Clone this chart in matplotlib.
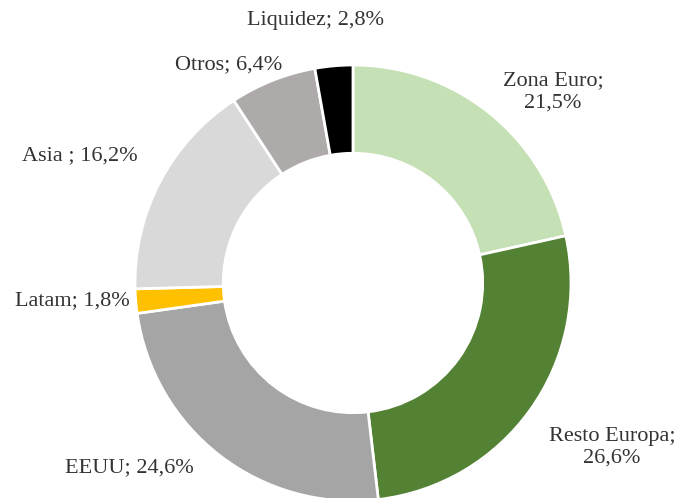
import matplotlib.pyplot as plt

labels = ["Zona Euro", "Resto Europa", "EEUU", "Latam", "Asia ", "Otros", "Liquidez"]
values = [21.5, 26.6, 24.6, 1.8, 16.2, 6.4, 2.8]
colors = ["#c5e0b4", "#548235", "#a5a5a5", "#ffc000", "#d9d9d9", "#aeaaaa", "#000000"]

# label text placement (data units, pie radius = 1)
label_pos = [(0.917, 0.876), (1.188, -0.752), (-1.028, -0.849), (-1.289, -0.083),
             (-1.252, 0.583), (-0.569, 1.0), (-0.17, 1.206)]
two_lines = [True, True, False, False, False, False, False]

fig = plt.figure(figsize=(6.85, 4.98), dpi=100)
ax = fig.add_axes([0, 0, 1, 1])
ax.pie(values, colors=colors, startangle=90, counterclock=False, radius=1,
       wedgeprops=dict(width=0.405, edgecolor="white", linewidth=2))

for lab, v, (x, y), tl in zip(labels, values, label_pos, two_lines):
    txt = f"{lab};" + ("\n" if tl else " ") + f"{v:.1f}%".replace(".", ",")
    ax.text(x, y, txt, ha="center", va="center", fontsize=16,
            family="Liberation Serif", color="#333333", linespacing=1.2)

ax.set_xlim(-353 / 218, (685 - 353) / 218)
ax.set_ylim(-(498 - 283) / 218, 283 / 218)
ax.set_aspect("equal")
ax.axis("off")
fig.savefig("out.png", dpi=100)
